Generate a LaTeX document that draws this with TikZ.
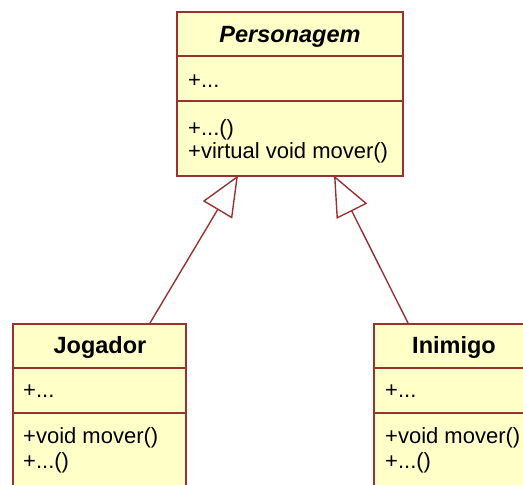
\documentclass[tikz,border=0pt]{standalone}
\usepackage{fontspec}
\setmainfont{Liberation Sans}
\usetikzlibrary{arrows.meta}
\definecolor{umlfill}{HTML}{FFFFC8}
\definecolor{umlline}{HTML}{993333}
\tikzset{
  classbox/.style={draw=umlline, fill=umlfill, line width=1.6pt, rectangle, inner sep=0pt, anchor=north west},
  sepline/.style={draw=umlline, line width=1.6pt},
  member/.style={anchor=base west, inner sep=0pt, font=\fontsize{22}{24}\selectfont},
  cname/.style={anchor=base, inner sep=0pt, font=\fontsize{23.5}{25}\selectfont\bfseries},
  inherit/.style={draw=umlline, line width=1.4pt, -{Triangle[open, length=40pt, width=34pt, fill=white]}}
}
\begin{document}
\begin{tikzpicture}[x=1pt,y=-1pt]
\useasboundingbox (0,0) rectangle (523,485);
\clip (0,0) rectangle (523,485);
% Personagem
\node[classbox, minimum width=226pt, minimum height=164pt] (P) at (176,11) {};
\draw[sepline] (176,56) -- (402,56);
\draw[sepline] (176,101) -- (402,101);
\node[cname, font=\fontsize{23.5}{25}\selectfont\bfseries\itshape] (Pn) at (290,42) {Personagem};
\node[member] (Pa) at (188,87) {+...};
\node[member] (Pm1) at (188,135) {+...()};
\node[member] (Pm2) at (188,158) {+virtual void mover()};
% Jogador
\node[classbox, minimum width=173pt, minimum height=200pt] (J) at (12,323) {};
\draw[sepline] (12,368) -- (185,368);
\draw[sepline] (12,413) -- (185,413);
\node[cname] (Jn) at (100,353) {Jogador};
\node[member] (Ja) at (23,397) {+...};
\node[member] (Jm1) at (23,443) {+void mover()};
\node[member] (Jm2) at (23,468) {+...()};
% Inimigo
\node[classbox, minimum width=173pt, minimum height=200pt] (I) at (373,323) {};
\draw[sepline] (373,368) -- (560,368);
\draw[sepline] (373,413) -- (560,413);
\node[cname] (In) at (454,353) {Inimigo};
\node[member] (Ia) at (385,397) {+...};
\node[member] (Im1) at (385,443) {+void mover()};
\node[member] (Im2) at (385,468) {+...()};
% connectors
\coordinate (Jt) at (150,323);
\coordinate (It) at (408,323);
\coordinate (Pb1) at (238,175.5);
\coordinate (Pb2) at (334,175.5);
\draw[inherit] (Jt) -- (Pb1);
\draw[inherit] (It) -- (Pb2);
\end{tikzpicture}
\end{document}
